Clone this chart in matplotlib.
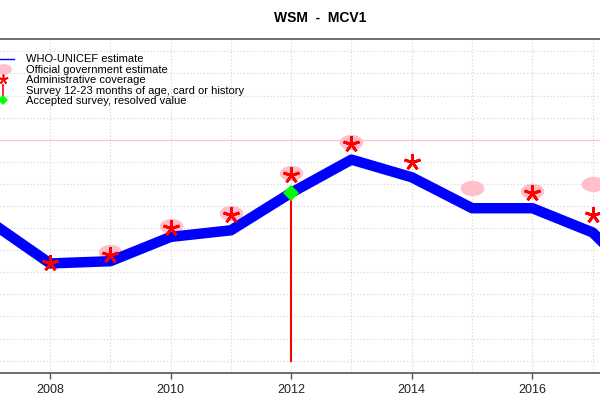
import matplotlib
matplotlib.use("Agg")
import matplotlib.pyplot as plt
from matplotlib.lines import Line2D
from matplotlib.path import Path
from matplotlib.transforms import Affine2D

plt.rcParams["font.family"] = ["Liberation Sans", "DejaVu Sans"]

# ── data ───────────────────────────────────────────────────────────────────
est_years = [2007, 2008, 2009, 2010, 2011, 2012, 2013, 2014, 2015, 2016, 2017, 2018]
est_vals = [63, 44, 45, 56, 59, 76, 91, 83, 69, 69, 58, 31]

gov_years = [2009, 2010, 2011, 2012, 2013, 2015, 2016, 2017]
gov_vals = [49, 61, 67, 85, 99, 78, 77, 80]

admin_years = [2008, 2009, 2010, 2011, 2012, 2013, 2014, 2016, 2017]
admin_vals = [44, 48, 60, 66, 84, 98, 90, 76, 66]

survey_years = [2012]
survey_vals = [76]

accepted_years = [2012]
accepted_vals = [76]

tick_years = [2008, 2010, 2012, 2014, 2016]

# ── style ──────────────────────────────────────────────────────────────────
BLUE = "#0000FF"
PINK = "#FFC0CB"
RED = "#FF0000"
GREEN = "#00FF00"
GRID = "#D3D3D3"

# squashed circle, like the stretched R output
ellipse = Path.unit_circle().transformed(Affine2D().scale(1.55, 1.0))
asterisk = (5, 2, 0)

fig = plt.figure(figsize=(6, 4), dpi=100)
ax = fig.add_axes([0.0, 0.0675, 1.0, 0.835])

# grid
for yr in range(2007, 2019):
    ax.axvline(yr, color=GRID, linestyle=(0, (1, 2)), linewidth=0.8, zorder=0)
for v in range(0, 150, 10):
    if v == 100:
        ax.axhline(v, color=PINK, linewidth=0.8, zorder=0)
    else:
        ax.axhline(v, color=GRID, linestyle=(0, (1, 2)), linewidth=0.8, zorder=0)

# survey line from 0 up to the value
for yr, v in zip(survey_years, survey_vals):
    ax.plot([yr, yr], [0, v], color=RED, linewidth=1.5, zorder=2)

ax.plot(gov_years, gov_vals, linestyle="none", marker=ellipse, markersize=17,
        color=PINK, markeredgewidth=0, zorder=3)
ax.plot(est_years, est_vals, color=BLUE, linewidth=7.5, zorder=4)
ax.plot(admin_years, admin_vals, linestyle="none", marker=asterisk, markersize=12,
        markeredgecolor=RED, markeredgewidth=2.0, zorder=5)
ax.plot(accepted_years, accepted_vals, linestyle="none", marker="D", markersize=8,
        color=GREEN, markeredgewidth=0, zorder=6)

ax.set_xlim(2007.171, 2017.121)
ax.set_ylim(-5.6, 145.6)
ax.set_xticks(tick_years)
ax.set_xticklabels([str(y) for y in tick_years])
ax.set_yticks([])
ax.tick_params(axis="x", direction="out", length=4, width=1, color="#555555",
               labelsize=9, labelcolor="#222222", pad=4)
for side in ("left", "right"):
    ax.spines[side].set_visible(False)
for side in ("top", "bottom"):
    ax.spines[side].set_color("#555555")
    ax.spines[side].set_linewidth(1.2)

handles = [
    Line2D([], [], color=BLUE, linewidth=1),
    Line2D([], [], linestyle="none", marker=ellipse, markersize=12, color=PINK, markeredgewidth=0),
    Line2D([], [], linestyle="none", marker=asterisk, markersize=7, markeredgecolor=RED, markeredgewidth=1.2),
    Line2D([], [], linestyle="none", marker="|", markersize=8, markeredgecolor=RED, markeredgewidth=1.2),
    Line2D([], [], linestyle="none", marker="D", markersize=5, color=GREEN, markeredgewidth=0),
]
labels = [
    "WHO-UNICEF estimate",
    "Official government estimate",
    "Administrative coverage",
    "Survey 12-23 months of age, card or history",
    "Accepted survey, resolved value",
]
ax.legend(handles, labels, loc="upper left", bbox_to_anchor=(-0.012, 0.864),
          bbox_transform=fig.transFigure, frameon=False, fontsize=8,
          handlelength=1.9, handletextpad=1.05, labelspacing=0.04, borderpad=0,
          borderaxespad=0)

fig.text(320 / 600, 1 - 18 / 400, "WSM  -  MCV1", fontsize=10, fontweight="bold",
         ha="center", va="center")

fig.savefig("out.png", dpi=100)
